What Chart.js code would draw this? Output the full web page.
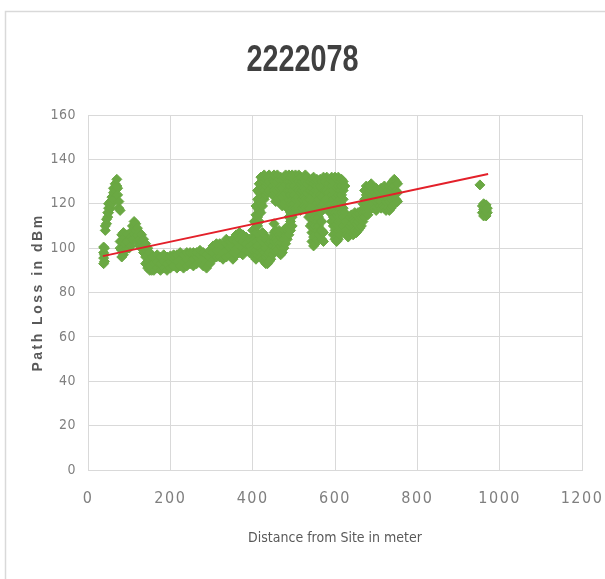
<!DOCTYPE html>
<html>
<head>
<meta charset="utf-8">
<script src="https://cdn.jsdelivr.net/npm/chart.js@4/dist/chart.umd.min.js"></script>
<style>
  html, body { margin: 0; padding: 0; background: #ffffff; }
  #wrap { position: relative; width: 605px; height: 579px; }
  canvas { display: block; }
</style>
</head>
<body>
<div id="wrap"><canvas id="chart" width="605" height="579"></canvas></div>
<script>
// Drive-test readings: distance from site (m) and the path loss samples (dBm) logged at each distance
const stationDistance = [
  38, 40, 42, 45, 48, 50, 55, 58, 62, 66, 70, 72, 75, 78, 82, 86, 90, 95, 100, 104,
  108, 112, 116, 120, 125, 130, 135, 140, 145, 150, 155,
  160, 168, 176, 184, 192, 200, 208, 216, 224, 232, 240, 248, 256, 264, 272, 280, 288, 296,
  304, 312, 320, 328, 336, 344, 352, 360, 368, 376, 384, 392, 400,
  404, 408, 412, 416, 420, 424, 428, 432, 436, 440, 444, 448, 452,
  456, 460, 464, 468, 472, 476, 480, 484, 488, 492,
  496, 500, 504, 508, 512, 516, 520, 524, 528, 532, 536, 540,
  544, 548, 552, 556, 560, 564, 568, 572, 576, 580, 584, 588, 592, 596,
  600, 604, 608, 612, 616, 620, 624,
  628, 632, 636, 640, 644, 648, 652, 656, 660, 664, 668, 672, 676, 680,
  684, 688, 692, 696, 700, 704, 708, 712, 716, 720, 724, 728, 732, 736, 740, 744, 748, 752,
  952, 958, 961, 964, 967, 970
];

const stationLoss = [
  [93, 95.5, 98, 100.5], [94, 97, 100], [108, 110], [111, 113], [114, 116],
  [116, 118, 120], [118, 121], [120, 123], [122, 125, 127], [126, 129],
  [128, 131], [127, 124], [121, 118], [100, 103, 117], [96, 99, 103, 106],
  [97, 100, 104, 107], [99, 102, 105], [100, 103, 106], [100, 104], [101, 105],
  [104, 108, 110], [106, 110, 112], [104, 108, 111], [103, 106, 109], [101, 104, 107],
  [100, 103, 106], [98, 101, 104], [93, 96, 99, 102], [91, 94, 97, 100], [90, 92, 95, 98],
  [90, 93, 96],
  [90, 93, 96], [91, 94, 97], [90, 93, 96], [91, 94, 97], [90, 93, 96],
  [91, 94, 96.5], [92, 95, 97], [91, 94, 97], [92, 95, 98], [91, 94, 97],
  [92, 95, 98], [93, 96, 98], [92, 95, 98], [93, 96, 98], [94, 97, 99],
  [92, 95, 98], [91, 94, 97], [93, 96, 99],
  [95, 98, 101], [96, 99, 102], [96, 99, 102], [95, 98, 101], [96, 99, 102, 104],
  [97, 100, 103], [95, 98, 101, 104], [97, 100, 103, 106], [98, 101, 104, 107],
  [97, 100, 103, 106], [99, 102, 105], [98, 101, 104], [99, 102, 105, 108],
  [96, 100, 104, 108, 112], [95, 99, 103, 107, 111, 115, 119],
  [97, 101, 110, 114, 118, 122, 126], [98, 102, 106, 112, 117, 121, 125, 129],
  [96, 100, 104, 116, 120, 124, 128, 132], [95, 99, 103, 107, 119, 123, 127, 131],
  [94, 98, 102, 106, 122, 126, 130, 133], [93, 96, 100, 104, 124, 128, 131],
  [93, 97, 101, 125, 129, 132], [94, 98, 102, 126, 130, 133],
  [95, 99, 103, 125, 129, 132], [97, 101, 105, 124, 128, 131],
  [99, 103, 107, 111, 126, 130, 133],
  [100, 104, 108, 121, 125, 129, 132], [99, 103, 107, 122, 126, 130, 133],
  [98, 102, 106, 108, 123, 127, 131], [97, 101, 105, 120, 124, 128, 132],
  [98, 102, 106, 119, 123, 127, 131], [100, 104, 108, 120, 124, 128, 132],
  [102, 106, 109, 121, 125, 129, 133], [104, 108, 118, 122, 126, 130],
  [106, 110, 114, 118, 122, 126, 130, 133], [108, 112, 116, 120, 124, 128, 132],
  [110, 114, 118, 122, 126, 130, 133], [116, 120, 124, 128, 131],
  [118, 122, 126, 130, 133], [119, 123, 127, 131], [118, 122, 126, 130, 133],
  [117, 121, 125, 129, 132], [118, 122, 126, 130], [119, 123, 127, 131],
  [118, 122, 126, 130, 133], [117, 121, 125, 129, 132], [114, 118, 122, 126, 130],
  [110, 114, 118, 122, 126, 130],
  [103, 107, 111, 115, 119, 123, 127, 131], [101, 105, 109, 113, 117, 121, 125, 129, 132],
  [102, 106, 110, 114, 118, 122, 126, 130], [104, 108, 112, 116, 120, 124, 128, 131],
  [106, 110, 114, 118, 122, 126, 130], [108, 112, 116, 120, 124, 128, 131],
  [104, 108, 112, 119, 123, 127, 130], [103, 107, 120, 124, 128, 132],
  [118, 122, 126, 130], [118, 122, 126, 129, 132], [117, 121, 125, 129],
  [116, 120, 124, 128, 131], [112, 116, 120, 124, 128, 132],
  [106, 110, 114, 118, 122, 126, 130],
  [104, 108, 112, 116, 120, 124, 128, 132], [103, 107, 111, 115, 119, 123, 127, 131],
  [104, 108, 112, 116, 120, 124, 128, 132], [106, 110, 114, 118, 122, 126, 130],
  [108, 112, 116, 120, 124, 128, 131], [110, 114, 118, 122, 126, 130],
  [108, 112, 116, 128],
  [106, 110, 114], [105, 109, 113], [106, 110, 114], [107, 111, 115], [106, 110, 113],
  [108, 112, 116], [107, 111, 115], [108, 112, 116], [109, 113, 116], [110, 114, 117],
  [112, 116, 120], [114, 118, 122, 126], [116, 120, 124, 128], [115, 119, 123, 127],
  [117, 121, 125, 128], [118, 122, 126, 129], [120, 124, 127], [118, 122, 125],
  [117, 121, 124, 127], [118, 122, 126], [119, 123, 126], [118, 121, 124, 127],
  [119, 123, 126], [118, 122, 125, 128], [117, 121, 124], [118, 122, 126],
  [117, 121, 125, 128], [118, 122, 126, 129], [119, 123, 127, 130], [120, 124, 128, 131],
  [122, 126, 130], [121, 125, 129],
  [128.5], [116, 119], [114.5, 117.5, 120], [115, 118], [114.5, 117, 119.5], [116, 118]
];

// Linear trend of path loss against distance (end points of the fitted line)
const trendDistance = [36, 972];
const trendLoss = [96.4, 133.4];

const xTicks = [0, 200, 400, 600, 800, 1000, 1200];
const yTicks = [0, 20, 40, 60, 80, 100, 120, 140, 160];

const chartTitle = '2222078';
const xTitle = 'Distance from Site in meter';
const yTitle = 'Path Loss in dBm';

const condensed = '"DejaVu Sans Condensed", "Liberation Sans Narrow", "DejaVu Sans", sans-serif';

const readings = stationDistance.flatMap((d, i) => stationLoss[i].map(v => ({ x: d, y: v })));
const trend = trendDistance.map((d, i) => ({ x: d, y: trendLoss[i] }));

// Fixes a scale's size and draws its labels/title with extra letter spacing
function fixedScale(labelSpacing, titleSpacing, width, height) {
  return function (scale) {
    if (width !== null) scale.width = width;
    if (height !== null) scale.height = height;
    scale.paddingLeft = 0;
    scale.paddingRight = 0;
    scale.paddingTop = 0;
    scale.paddingBottom = 0;
    if (scale.$spaced) return;
    scale.$spaced = true;
    const wrap = (name, sp) => {
      const orig = scale[name];
      scale[name] = function (...args) {
        const ctx = this.ctx;
        ctx.save();
        ctx.letterSpacing = sp;
        orig.apply(this, args);
        ctx.restore();
      };
    };
    wrap('drawLabels', labelSpacing);
    wrap('drawTitle', titleSpacing);
  };
}

// Light frame around the chart area and the tall, narrow chart title
const frame = {
  id: 'frame',
  beforeDraw(chart) {
    const ctx = chart.ctx;
    ctx.save();
    ctx.fillStyle = '#ffffff';
    ctx.fillRect(0, 0, chart.width, chart.height);
    ctx.strokeStyle = '#d9d9d9';
    ctx.lineWidth = 1.5;
    ctx.strokeRect(5.5, 11.5, 700, 700);
    ctx.translate(chart.width / 2, 61);
    ctx.scale(0.8, 1);
    ctx.fillStyle = '#404040';
    ctx.font = 'bold 36px "Liberation Sans", Arial, sans-serif';
    ctx.textAlign = 'center';
    ctx.textBaseline = 'middle';
    ctx.fillText(chartTitle, 0, 0);
    ctx.restore();
  }
};

new Chart(document.getElementById('chart'), {
  type: 'scatter',
  data: {
    datasets: [
      {
        type: 'line',
        label: 'Trend',
        data: trend,
        borderColor: '#e3202a',
        borderWidth: 2,
        pointRadius: 0,
        fill: false,
        order: 0
      },
      {
        label: 'Path Loss',
        data: readings,
        pointStyle: 'rectRot',
        pointRadius: 5,
        backgroundColor: '#6aa843',
        borderColor: '#6aa843',
        borderWidth: 1,
        order: 1
      }
    ]
  },
  options: {
    responsive: false,
    animation: false,
    layout: { padding: { left: 0, right: 23, top: 115, bottom: 0 } },
    plugins: {
      legend: { display: false },
      tooltip: { enabled: false },
      title: { display: false }
    },
    scales: {
      x: {
        type: 'linear',
        min: 0,
        max: 1200,
        afterBuildTicks: s => { s.ticks = xTicks.map(v => ({ value: v })); },
        afterFit: fixedScale('1.5px', '0px', null, 109),
        ticks: {
          color: '#7f7f7f',
          padding: 19,
          font: { family: condensed, size: 16 },
          callback: v => String(v)
        },
        grid: { color: '#d9d9d9', lineWidth: 1, drawTicks: false },
        border: { color: '#d9d9d9' },
        title: {
          display: true,
          text: xTitle,
          color: '#595959',
          font: { family: condensed, size: 14 },
          padding: { top: 0, bottom: 32 }
        }
      },
      y: {
        type: 'linear',
        min: 0,
        max: 160,
        afterBuildTicks: s => { s.ticks = yTicks.map(v => ({ value: v })); },
        afterFit: fixedScale('0.5px', '2.5px', 88, null),
        ticks: {
          color: '#7f7f7f',
          padding: 12,
          font: { family: condensed, size: 14 },
          callback: v => String(v)
        },
        grid: { color: '#d9d9d9', lineWidth: 1, drawTicks: false },
        border: { color: '#d9d9d9' },
        title: {
          display: true,
          text: yTitle,
          color: '#595959',
          font: { family: '"Liberation Sans", Arial, sans-serif', size: 14, weight: 'bold' },
          padding: { top: 30, bottom: 0 }
        }
      }
    }
  },
  plugins: [frame]
});
</script>
</body>
</html>
